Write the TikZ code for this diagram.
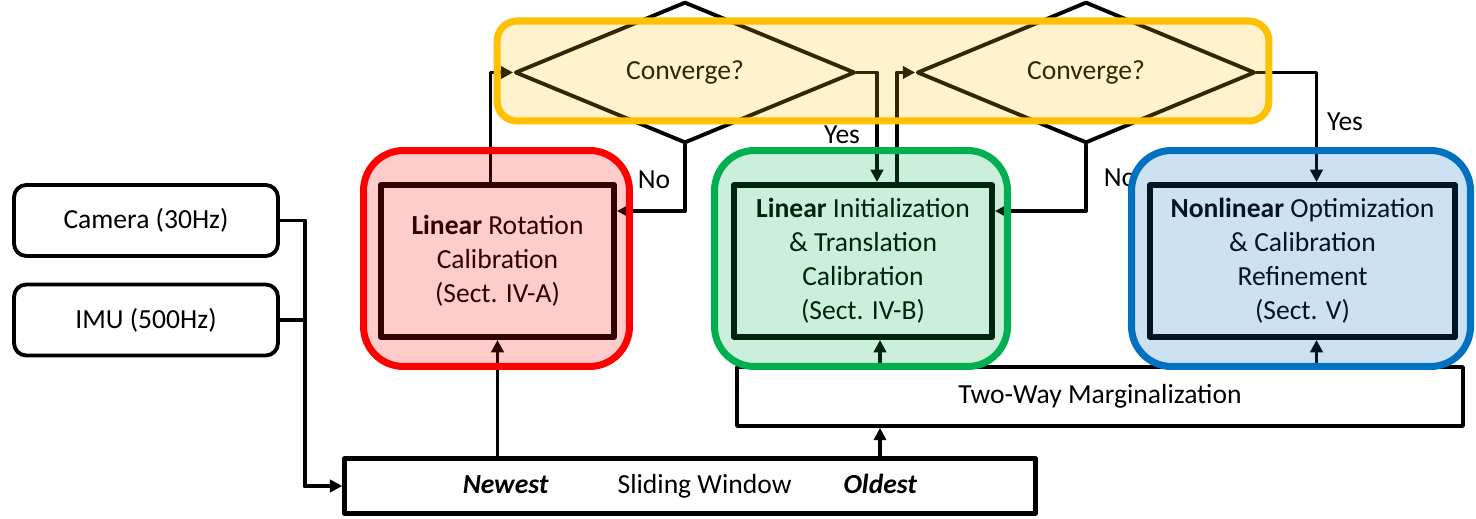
\documentclass[tikz,border=0pt]{standalone}
\usepackage{fontspec}
\setmainfont{Carlito}
\usetikzlibrary{arrows.meta,shapes.geometric}

\definecolor{rotred}{RGB}{255,0,0}
\definecolor{transgreen}{RGB}{0,176,80}
\definecolor{optblue}{RGB}{0,112,192}
\definecolor{convyellow}{RGB}{255,192,0}

\begin{document}
\begin{tikzpicture}[x=0.02cm,y=-0.02cm,>={Triangle[length=7pt,width=7pt]}, font=\fontsize{15.7}{19.3}\selectfont, line join=round, line cap=round,
	src/.style={draw,line width=2.2pt,rounded corners=7pt,minimum width=5.28cm,minimum height=1.42cm},
	stage/.style={draw,line width=3.4pt,align=center,inner sep=0pt,minimum height=3.04cm},
	group/.style={draw=#1,fill=#1,fill opacity=0.2,line width=4pt,rounded corners=0.8cm,minimum height=4.32cm},
	conv/.style={diamond,draw,fill=white,line width=2.2pt,inner sep=0pt,minimum width=6.8cm,minimum height=2.42cm},
	link/.style={line width=2.2pt}]
			\useasboundingbox (0,0) rectangle (1476,519);
			% inputs and window
			\node[src] (cam) at (146,220.5) {Camera (30Hz)};
			\node[src] (imu) at (146,320) {IMU (500Hz)};
			\node[draw,line width=2.6pt,minimum width=13.82cm,minimum height=1.1cm] (win) at (690,486)
				{\textbf{\textit{Newest}}\hspace{1.38cm}Sliding Window\hspace{1.04cm}\textbf{\textit{Oldest}}};
			\node[draw,line width=2.2pt,minimum width=14.52cm,minimum height=1.18cm] (marg) at (1100,396.5) {Two-Way Marginalization};
			% decisions
			\node[conv] (conv1) at (685,72.5) {Converge?};
			\node[conv,minimum width=6.76cm] (conv2) at (1086,72.5) {Converge?};
			% stages
			\node[stage,minimum width=4.66cm] (rotin) at (497.5,261) {\textbf{Linear} Rotation\\Calibration\\(Sect. IV-A)};
			\node[stage,minimum width=5.16cm] (transin) at (863,261) {\textbf{Linear} Initialization\\\& Translation\\Calibration\\(Sect. IV-B)};
			\node[stage,minimum width=6.1cm] (optin) at (1302.5,261) {\textbf{Nonlinear} Optimization\\\& Calibration\\Refinement\\(Sect. V)};
			% connectors
			\coordinate (j) at (305,486);
			\draw[link] (cam.east) -| (j);
			\draw[link] (imu.east) -| (j);
			\draw[link,->] (j) -- (win.west);
			\draw[link,->] (rotin.south |- win.north) -- (rotin.south);
			\coordinate (m1) at ([xshift=0.34cm]transin.south);
			\coordinate (m2) at ([xshift=0.28cm]optin.south);
			\draw[link,->] (m1 |- win.north) -- (m1 |- marg.south);
			\draw[link,->] (m1 |- marg.north) -- (m1);
			\draw[link,->] (m2 |- marg.north) -- (m2);
			\draw[link,->] ([xshift=-0.14cm]rotin.north) |- (conv1.west);
			\draw[link,->] (conv1.east) -| ([xshift=0.28cm]transin.north);
			\draw[link,->] (conv1.south) |- ([yshift=1cm]rotin.east);
			\draw[link,->] ([xshift=0.68cm]transin.north) |- (conv2.west);
			\draw[link,->] (conv2.east) -| ([xshift=0.28cm]optin.north);
			\draw[link,->] (conv2.south) |- ([yshift=1cm]transin.east);
			\node (yes1) at (842,135) {Yes};
			\node (no1) at (654,180) {No};
			\node (no2) at (1120,178) {No};
			\node (yes2) at (1345,122) {Yes};
			% coloured groups
			\node[group=rotred,minimum width=5.32cm] (rot) at (496.5,258.5) {};
			\node[group=transgreen,minimum width=5.86cm] (trans) at (861,258.5) {};
			\node[group=optblue,minimum width=6.78cm] (opt) at (1301,258.5) {};
			\node[group=convyellow,rounded corners=0.4cm,minimum width=15.44cm,minimum height=2cm] (convs) at (883,71) {};
		\end{tikzpicture}
\end{document}
